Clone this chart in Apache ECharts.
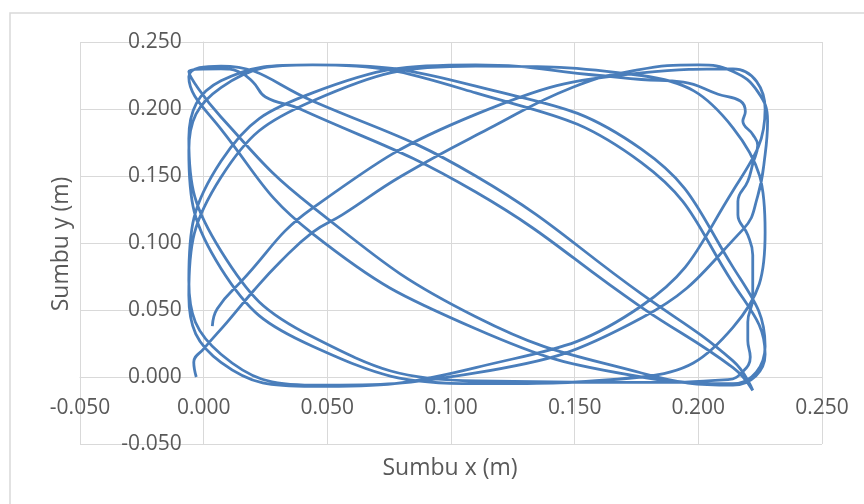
<!DOCTYPE html>
<html>
<head>
<meta charset="utf-8">
<script src="https://cdn.jsdelivr.net/npm/echarts@6/dist/echarts.min.js"></script>
<style>
html,body{margin:0;padding:0;background:#fff;}
#chart{width:864px;height:504px;}
</style>
</head>
<body>
<div id="chart"></div>
<script>
// Trajectory (metres), in drawing order
const xs = [-0.003,-0.004,0.000,0.0095,0.020,0.031,0.044,0.056,0.080,0.115,0.149,0.175,0.200,0.214,0.224,0.228,0.227,0.224,
 0.218,0.177,0.110,0.044,0.007,
 -0.006,0.007,0.044,0.110,0.160,0.177,0.194,0.208,0.217,0.219,0.218,0.222,0.224,0.222,0.220,0.216,0.216,0.220,0.222,0.222,0.220,0.220,0.221,0.218,0.212,0.177,0.110,0.044,0.007,
 -0.006,0.007,0.044,0.110,0.177,0.214,0.227,0.214,0.177,0.110,0.044,0.007,
 -0.006,0.007,0.014,0.020,0.025,0.039,0.110,0.177,0.214,0.222,0.214,0.177,0.110,0.044,0.007,
 -0.006,0.007,0.044,0.110,0.177,0.214,0.227,0.214,0.177,0.110,0.044,0.007,
 -0.006,0.007,0.044,0.110,0.177,0.214,0.227,0.214,0.177,0.110,0.044,0.007,
 -0.006,0.007,0.044,0.110,0.177,0.214,0.227,0.214,0.177,0.110,0.044,
 0.015,0.0055,0.0035];
const ys = [0.000,0.011,0.021,0.041,0.064,0.086,0.108,0.121,0.150,0.185,0.216,0.229,0.233,0.228,0.213,0.191,0.166,0.135,
 0.110,0.044,0.003,-0.006,0.017,
 0.072,0.161,0.212,0.233,0.225,0.222,0.220,0.211,0.206,0.198,0.191,0.181,0.173,0.159,0.146,0.131,0.121,0.106,0.091,0.059,0.041,0.027,0.015,0.004,-0.002,-0.004,-0.003,0.030,0.094,
 0.178,0.221,0.233,0.212,0.160,0.070,0.017,-0.006,0.003,0.045,0.127,0.194,
 0.228,0.230,0.228,0.220,0.209,0.200,0.138,0.052,0.007,-0.010,0.012,0.062,0.150,0.206,0.232,
 0.224,0.185,0.107,0.036,0.000,-0.005,0.023,0.082,0.170,0.217,0.233,0.216,
 0.169,0.081,0.023,-0.005,0.000,0.037,0.108,0.186,0.225,0.232,0.206,0.149,
 0.061,0.011,-0.007,0.007,0.053,0.139,0.200,0.230,0.227,0.196,0.126,
 0.071,0.051,0.038];
const xAxisRange = [-0.05, 0.25, 0.05];   // min, max, step
const yAxisRange = [-0.05, 0.25, 0.05];
const xTitle = 'Sumbu x (m)';
const yTitle = 'Sumbu y (m)';

const pts = xs.map((x, i) => [x, ys[i]]);
const FONT = '"Open Sans", "Noto Sans", sans-serif';
const GRID = {left: 80, right: 42, top: 42, bottom: 60};
const W = 864, H = 504;
const plotW = W - GRID.left - GRID.right, plotH = H - GRID.top - GRID.bottom;
// distance from the default axis position to the zero line of the other axis
const xAxisShift = -plotH * (0 - yAxisRange[0]) / (yAxisRange[1] - yAxisRange[0]);
const yAxisShift = -plotW * (0 - xAxisRange[0]) / (xAxisRange[1] - xAxisRange[0]);

const chart = echarts.init(document.getElementById('chart'), null, {renderer: 'canvas'});
chart.setOption({
  animation: false,
  backgroundColor: '#ffffff',
  grid: Object.assign({containLabel: false}, GRID),
  xAxis: {
    type: 'value', min: xAxisRange[0], max: xAxisRange[1], interval: xAxisRange[2],
    position: 'bottom', offset: xAxisShift,
    axisLine: {show: true, onZero: false, lineStyle: {color: '#d9d9d9', width: 1}},
    axisTick: {show: false},
    splitLine: {show: true, lineStyle: {color: '#d9d9d9', width: 1}},
    axisLabel: {margin: 21, color: '#595959', fontSize: 21, fontFamily: FONT,
      formatter: v => v.toFixed(3)}
  },
  yAxis: {
    type: 'value', min: yAxisRange[0], max: yAxisRange[1], interval: yAxisRange[2],
    position: 'left', offset: yAxisShift,
    axisLine: {show: true, onZero: false, lineStyle: {color: '#d9d9d9', width: 1}},
    axisTick: {show: false},
    splitLine: {show: true, lineStyle: {color: '#d9d9d9', width: 1}},
    axisLabel: {margin: 22, color: '#595959', fontSize: 21, fontFamily: FONT,
      formatter: v => v.toFixed(3)}
  },
  graphic: [
    {type: 'rect', shape: {x: 10, y: 13, width: 1000, height: 1000}, silent: true,
     style: {fill: 'none', stroke: '#d9d9d9', lineWidth: 1.5}},
    {type: 'text', x: 450, y: 468, silent: true,
     style: {text: xTitle, fill: '#595959', font: '23px ' + FONT, textAlign: 'center', textVerticalAlign: 'middle'}},
    {type: 'text', x: 61, y: 244, rotation: Math.PI / 2, silent: true,
     style: {text: yTitle, fill: '#595959', font: '23px ' + FONT, textAlign: 'center', textVerticalAlign: 'middle'}}
  ],
  series: [{
    type: 'line', data: pts, showSymbol: false, smooth: 0.45,
    lineStyle: {color: '#4a7ebb', width: 2.8},
    itemStyle: {color: '#4a7ebb'}
  }]
});
</script>
</body>
</html>
